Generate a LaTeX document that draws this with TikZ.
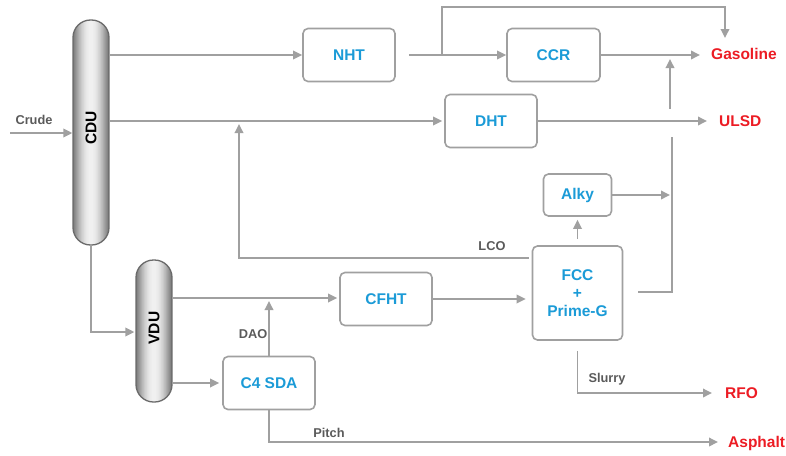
\documentclass[tikz,border=0pt]{standalone}
\usepackage{fontspec}
\setmainfont{Liberation Sans}
\usetikzlibrary{arrows.meta,calc}

\definecolor{linegray}{HTML}{A0A0A0}
\definecolor{unitblue}{HTML}{1B9BD7}
\definecolor{prodred}{HTML}{EC1C24}
\definecolor{labelgray}{HTML}{5A5A5A}
\definecolor{colborder}{HTML}{6A6A6A}

\tikzset{
  flow/.style={draw=linegray, line width=1.8pt, -{Triangle[length=9pt,width=8.5pt]}},
  pipe/.style={draw=linegray, line width=1.8pt},
  unit/.style={draw=linegray, line width=1.6pt, rounded corners=5pt, fill=white,
    inner sep=0pt, text=unitblue, font=\fontsize{15.5}{18}\selectfont\bfseries, align=center},
  column/.style={draw=colborder, line width=1.3pt, rounded corners=17.5pt,
    minimum width=36pt, inner sep=0pt},
  coltext/.style={rotate=90, font=\fontsize{15.5}{18}\selectfont\bfseries, text=black},
  product/.style={anchor=west, inner sep=0pt, text=prodred, font=\fontsize{15.5}{18}\selectfont\bfseries},
  streamlabel/.style={inner sep=0pt, text=labelgray, font=\fontsize{12.8}{15}\selectfont\bfseries}
}

% metallic body of a column: vertical strips, dark at the sides and light in the middle
\newcommand\metalcolumn[4]{%
  \begin{scope}
    \clip[rounded corners=17.5pt] (#1,#2) rectangle (#3,#4);
    \foreach \i in {0,...,35} {
      \pgfmathtruncatemacro\lev{46+49*sin(180*(\i+0.5)/36)}
      \fill[white!\lev!black] (#1+\i,#2) rectangle (#1+\i+1.4,#4);
    }
  \end{scope}}

\begin{document}
\begin{tikzpicture}[x=1pt,y=-1pt]
\useasboundingbox (0,0) rectangle (786,455);

% distillation columns
\metalcolumn{73}{20}{109}{245}
\node[column, minimum height=225pt] (cdu) at (91,132.5) {};
\node[coltext] at (91,128) {CDU};
\metalcolumn{136}{260}{172}{402}
\node[column, minimum height=142pt] (vdu) at (154,331) {};
\node[coltext] at (154,328) {VDU};

% process units
\node[unit, minimum width=92pt, minimum height=53pt] (nht) at (349,55) {NHT};
\node[unit, minimum width=93pt, minimum height=53pt] (ccr) at (553.5,55) {CCR};
\node[unit, minimum width=92pt, minimum height=53pt] (dht) at (491,121) {DHT};
\node[unit, minimum width=68pt, minimum height=42pt] (alky) at (577.5,195) {Alky};
\node[unit, minimum width=90pt, minimum height=94pt] (fcc) at (577.5,293) {FCC\\+\\Prime-G};
\node[unit, minimum width=92pt, minimum height=53pt] (cfht) at (386,299) {CFHT};
\node[unit, minimum width=92pt, minimum height=53pt] (sda) at (269,383) {C4 SDA};

% products
\node[product] (gasoline) at (711,54) {Gasoline};
\node[product] (ulsd) at (719,121) {ULSD};
\node[product] (rfo) at (725,393) {RFO};
\node[product] (asphalt) at (728,443) {Asphalt};

% stream labels
\node[streamlabel] (crudelbl) at (34,120) {Crude};
\node[streamlabel] (lcolbl) at (492,246) {LCO};
\node[streamlabel] (daolbl) at (253,334) {DAO};
\node[streamlabel] (pitchlbl) at (329,433) {Pitch};
\node[streamlabel] (slurrylbl) at (607,379) {Slurry};

% free ends of streams
\coordinate (crudein) at (10,133);
\coordinate (bypass) at (442,55);
\coordinate (gastop) at (725,38);
\coordinate (riserlow) at (670,109);
\coordinate (risertop) at (670,59);
\coordinate (collecttop) at (672,137);
\coordinate (alkyin) at (670,195);
\coordinate (lcoturn) at (239,258);
\coordinate (lcotip) at (239,124);
\coordinate (daotip) at (270,301);

% crude feed and column products
\draw[flow] (crudein) -- (crudein -| cdu.west);
\draw[flow] (cdu.east |- nht.west) -- (nht.west);
\draw[flow] (cdu.east |- dht.west) -- ([xshift=-2pt]dht.west);
\draw[flow] (cdu.south) |- ([xshift=-1pt]vdu.west |- 0,332);
\draw[flow] (vdu.east |- 0,298) -- ([xshift=-2pt]cfht.west |- 0,298);
\draw[flow] (vdu.east |- sda.west) -- ([xshift=-3pt]sda.west);

% naphtha train
\draw[flow] ([xshift=13pt]nht.east) -- (ccr.west);
\draw[flow] (bypass) -- (bypass |- 0,7) -| (gastop);
\draw[flow] (ccr.east) -- ([xshift=-11pt]gasoline.west |- ccr.east);
\draw[flow] (riserlow) -- (risertop);

% distillate
\draw[flow] (dht.east) -- ([xshift=-12pt]ulsd.west);

% FCC section
\draw[flow] (cfht.east) -- ([xshift=-6pt]fcc.west |- cfht.east);
\draw[flow] ([yshift=6pt]fcc.north) -- ([yshift=-3pt]alky.south);
\draw[flow] (alky.east) -- (alkyin);
\draw[pipe] ([xshift=15pt]fcc.east |- 0,292) -| (collecttop);
\draw[flow] ([xshift=-3pt]fcc.west |- lcoturn) -- (lcoturn) -- (lcotip);
\draw[flow] ([yshift=-10pt]fcc.south) |- ([xshift=-13pt]rfo.west);

% deasphalting
\draw[flow] (sda.north) -- (sda.north |- daotip);
\draw[flow] (sda.south) |- ([xshift=-10pt]asphalt.west |- 0,442);
\end{tikzpicture}
\end{document}
